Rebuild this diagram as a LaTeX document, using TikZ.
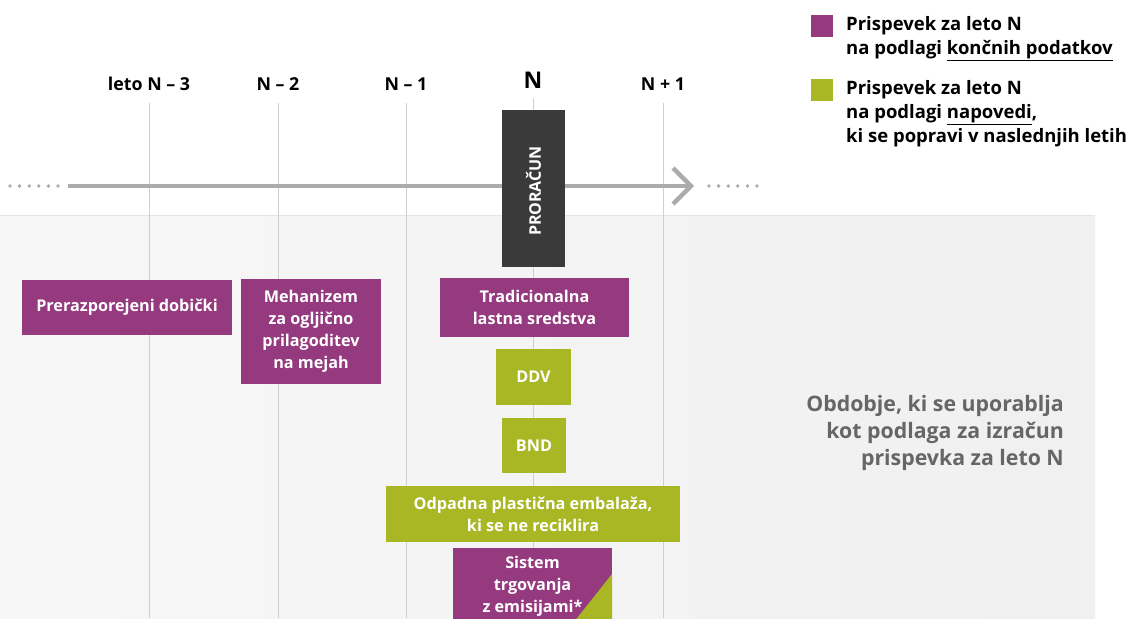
\documentclass[tikz,border=0pt]{standalone}
\usepackage{fontspec}
\setmainfont{Open Sans}
\definecolor{purp}{HTML}{953A7F}
\definecolor{lime}{HTML}{A9B724}
\definecolor{darkbox}{HTML}{3A3A3A}
\definecolor{axisgray}{HTML}{ABABAB}
\definecolor{vgray}{HTML}{CFCFCF}
\definecolor{notegray}{HTML}{666666}
\begin{document}
\begin{tikzpicture}[x=1pt,y=-1pt,
  boxtext/.style={inner sep=0pt, align=center, text=white, font=\bfseries\fontsize{16.2}{22}\selectfont},
  pbox/.style={boxtext, fill=purp},
  gbox/.style={boxtext, fill=lime},
  yearlbl/.style={font=\bfseries\fontsize{17.8}{20}\selectfont, inner sep=0pt},
  vline/.style={draw=vgray, line width=0.9pt},
  axis/.style={draw=axisgray, line width=4.5pt},
  legtext/.style={font=\bfseries\fontsize{18.5}{24}\selectfont, align=left, anchor=north west, inner sep=0pt},
  legsq/.style={minimum width=22pt, minimum height=22pt, inner sep=0pt}
]
\useasboundingbox (0,0) rectangle (1131,618);
% background band
\shade[left color=white!97!black, right color=black!6] (0,215) rectangle (1095,618);
\draw[black!10, line width=0.8pt] (0,215) -- (1095,215);

% year labels
\node[yearlbl] (y3) at (149,84) {leto N – 3};
\node[yearlbl] (y2) at (278,84) {N – 2};
\node[yearlbl] (y1) at (406,84) {N – 1};
\node[font=\bfseries\fontsize{23}{26}\selectfont, inner sep=0pt] (y0) at (533,80) {N};
\node[yearlbl] (yp) at (663,84) {N + 1};
\coordinate (b3) at (149,618);
\coordinate (b2) at (278,618);
\coordinate (b1) at (406,618);
\coordinate (b0) at (533,618);
\coordinate (bp) at (663,618);
\coordinate (t3) at (149,103);
\coordinate (t2) at (278,103);
\coordinate (t1) at (406,103);
\coordinate (t0) at (533,98);
\coordinate (tp) at (663,103);
\draw[vline] (t3) -- (b3);
\draw[vline] (t2) -- (b2);
\draw[vline] (t1) -- (b1);
\draw[vline] (t0) -- (b0);
\draw[vline] (tp) -- (bp);

% time axis
\coordinate (axs) at (68,186);
\coordinate (axe) at (690,186);
\draw[axis] (axs) -- (axe);
\draw[axis, line join=miter] (673,168) -- (691,186) -- (673,204);
\foreach \x in {10,19.6,...,59} \fill[axisgray] (\x,186) circle (1.9pt);
\foreach \x in {709,718.6,...,758} \fill[axisgray] (\x,186) circle (1.9pt);

% budget box
\node[fill=darkbox, minimum width=63pt, minimum height=157pt, inner sep=0pt] (pr) at (533.5,188.5) {};
\node[rotate=90, text=white, font=\bfseries\fontsize{16}{18}\selectfont, inner sep=0pt] (prt) at (533.5,191) {PRORAČUN};

% resource boxes
\node[pbox, minimum width=210pt, minimum height=55pt] (pd) at (127,307.5) {Prerazporejeni dobički};
\node[pbox, minimum width=140pt, minimum height=105pt] (cb) at (311,331.5) {Mehanizem\\za ogljično\\prilagoditev\\na mejah};
\node[pbox, minimum width=189pt, minimum height=59pt] (tr) at (534.5,307.5) {Tradicionalna\\lastna sredstva};
\node[gbox, minimum width=75pt, minimum height=56pt] (ddv) at (533.5,377) {DDV};
\node[gbox, minimum width=64pt, minimum height=55pt] (bnd) at (534,445.5) {BND};
\node[gbox, minimum width=294pt, minimum height=56pt] (op) at (533,514) {Odpadna plastična embalaža,\\ki se ne reciklira};
\node[fill=purp, minimum width=159pt, minimum height=72pt, inner sep=0pt] (ets) at (532.5,584) {};
\fill[lime] (612,574) -- (612,620) -- (575.5,620) -- cycle;
\node[boxtext, anchor=north] (etst) at (532.5,556) {Sistem\\trgovanja\\z emisijami*};

% note
\node[font=\bfseries\fontsize{21.3}{27}\selectfont, text=notegray, align=right, anchor=north east, inner sep=0pt] (note) at (1064,395) {Obdobje, ki se uporablja\\kot podlaga za izračun\\prispevka za leto N};

% legend
\node[legsq, fill=purp] (lq1) at (822,26) {};
\node[legtext] (lt1) at (846,16) {Prispevek za leto N\\na podlagi \underline{končnih podatkov}};
\node[legsq, fill=lime] (lq2) at (822,89.5) {};
\node[legtext] (lt2) at (846,80) {Prispevek za leto N\\na podlagi \underline{napovedi},\\ki se popravi v naslednjih letih};
\end{tikzpicture}
\end{document}
